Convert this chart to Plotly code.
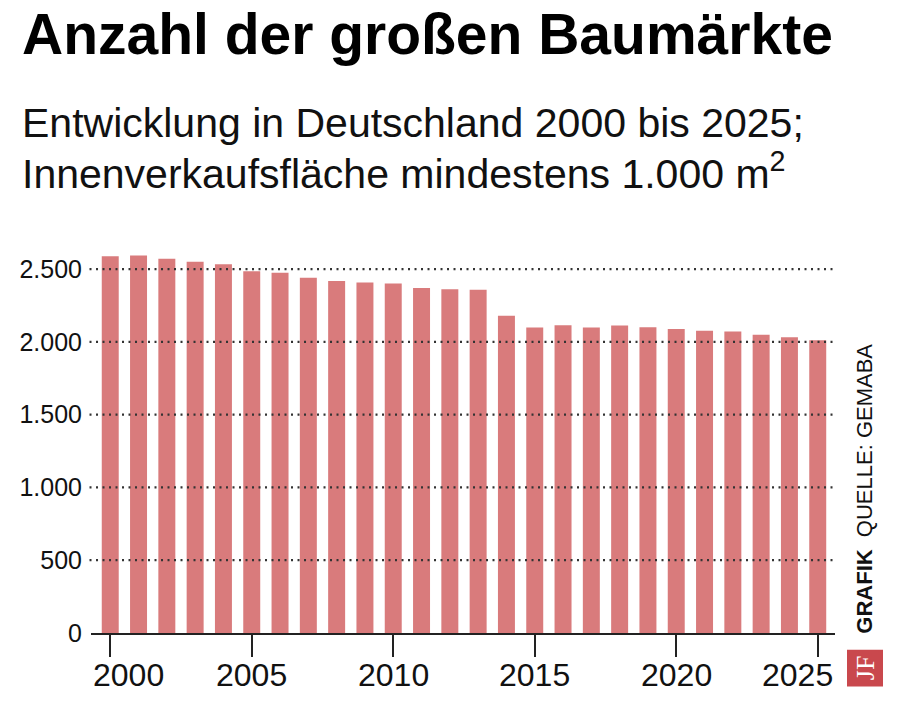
import plotly.graph_objects as go

years = list(range(2000, 2026))
counts = [2588, 2593, 2572, 2551, 2533, 2486, 2475, 2440, 2419, 2408, 2401, 2371, 2361, 2359,
          2180, 2099, 2115, 2099, 2113, 2101, 2088, 2076, 2072, 2049, 2032, 2011]
y_ticks = [0, 500, 1000, 1500, 2000, 2500]
y_labels = ["0", "500", "1.000", "1.500", "2.000", "2.500"]
x_ticks = [2000, 2005, 2010, 2015, 2020, 2025]
x_labels = ["2000", "2005", "2010", "2015", "2020", "2025"]

title = "Anzahl der großen Baumärkte"
subtitle_lines = ["Entwicklung in Deutschland 2000 bis 2025;",
                  "Innenverkaufsfläche mindestens 1.000 m<sup>2</sup>"]
source = "<b>GRAFIK</b>  QUELLE: GEMABA"

W, H = 900, 703
L, R, T, B = 91, 65, 239.5, 69.7
PW, PH = W - L - R, H - T - B
FONT = "Liberation Sans, Arial, sans-serif"


def px_x(px):
    return (px - L) / PW


def px_y(py):
    return (H - B - py) / PH


fig = go.Figure()
fig.add_trace(go.Bar(x=years, y=counts, marker=dict(color="#d97b7c", line=dict(width=0)),
                     hoverinfo="x+y"))

fig.update_layout(
    width=W, height=H,
    margin=dict(l=L, r=R, t=T, b=B, pad=0),
    paper_bgcolor="white", plot_bgcolor="white",
    bargap=0.4,
    showlegend=False,
    font=dict(family=FONT, color="#111"),
    xaxis=dict(range=[1999.32, 2025.61], tickvals=x_ticks, ticktext=x_labels,
               showticklabels=False,
               ticks="outside", ticklen=22, tickwidth=2, tickcolor="#222",
               showline=True, linecolor="#222", linewidth=2,
               showgrid=False, zeroline=False, fixedrange=True),
    yaxis=dict(range=[0, 2700], tickvals=y_ticks, ticktext=y_labels,
               tickfont=dict(size=25, family=FONT, color="#111"),
               ticks="", ticklabelstandoff=8,
               showgrid=False, zeroline=False, showline=False, fixedrange=True),
)

# dotted gridlines above bars
for v in y_ticks[1:]:
    fig.add_shape(type="line", xref="paper", yref="y", x0=-0.002, x1=1.0, y0=v, y1=v,
                  line=dict(color="#333", width=2.2, dash="2px,4.5px"), layer="above")

# x labels (edge labels kept inside axis span)
n = len(x_ticks)
ylab = px_y(655)
for i, (v, t) in enumerate(zip(x_ticks, x_labels)):
    if i == 0:
        kw = dict(x=0, xref="paper", xanchor="left")
    elif i == n - 1:
        kw = dict(x=1, xref="paper", xanchor="right")
    else:
        kw = dict(x=v, xref="x", xanchor="center")
    fig.add_annotation(y=ylab, yref="paper", yanchor="top", text=t, showarrow=False,
                       font=dict(size=32, family=FONT, color="#111"), **kw)

# title and subtitle
fig.add_annotation(text="<b>" + title + "</b>", xref="paper", yref="paper",
                   x=px_x(20), y=px_y(-1),
                   xanchor="left", yanchor="top", showarrow=False, align="left",
                   font=dict(size=57, family=FONT, color="#000"))
for k, line in enumerate(subtitle_lines):
    fig.add_annotation(text=line, xref="paper", yref="paper",
                       x=px_x(20), y=px_y(97 + 45 * k),
                       xanchor="left", yanchor="top", showarrow=False, align="left",
                       font=dict(size=41, family=FONT, color="#111"))

# vertical source text
fig.add_annotation(text=source, textangle=-90, xref="paper", yref="paper",
                   x=px_x(865), y=px_y(636), xanchor="center", yanchor="bottom",
                   showarrow=False, font=dict(size=22, family=FONT, color="#111"))

# logo
fig.add_shape(type="rect", xref="paper", yref="paper",
              x0=px_x(847), x1=px_x(883), y0=px_y(687), y1=px_y(650),
              fillcolor="#c9484d", line=dict(width=0), layer="above")
fig.add_annotation(text="JF", textangle=-90, xref="paper", yref="paper",
                   x=px_x(865), y=px_y(668.5),
                   xanchor="center", yanchor="middle", showarrow=False,
                   font=dict(size=26, family="Liberation Serif, DejaVu Serif, serif", color="white"))

fig.write_html("out.html")
